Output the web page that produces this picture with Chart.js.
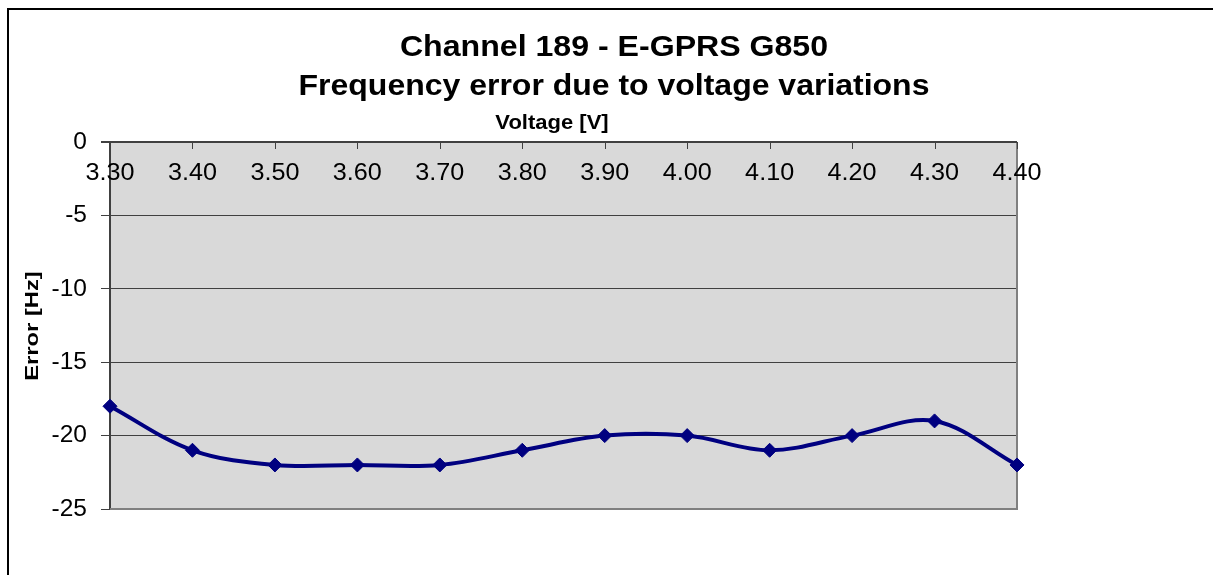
<!DOCTYPE html>
<html><head><meta charset="utf-8">
<script src="https://cdn.jsdelivr.net/npm/chart.js@4/dist/chart.umd.min.js"></script>
<style>html,body{margin:0;padding:0;background:#fff}canvas{display:block}</style>
</head><body>
<div style="width:1213px;height:575px"><canvas id="c" width="1213" height="575"></canvas></div>
<script>
const titleLines = ["Channel 189 - E-GPRS G850", "Frequency error due to voltage variations"];
const xAxisTitle = "Voltage [V]";
const yAxisTitle = "Error [Hz]";
const voltages = ["3.30","3.40","3.50","3.60","3.70","3.80","3.90","4.00","4.10","4.20","4.30","4.40"];
const errors = [-18,-21,-22,-22,-22,-21,-20,-20,-21,-20,-19,-22];
const yMin = -25, yMax = 0, yStep = 5;

const FONT = "'Liberation Sans', Arial, sans-serif";

function drawText(ctx, text, x, y, font, sx, rot) {
  ctx.save();
  ctx.translate(x, y);
  if (rot) ctx.rotate(rot);
  ctx.scale(sx, 1);
  ctx.font = font;
  ctx.fillStyle = '#000';
  ctx.textAlign = 'center';
  ctx.textBaseline = 'middle';
  ctx.fillText(text, 0, 0);
  ctx.restore();
}

const decor = {
  id: 'decor',
  beforeDraw(chart) {
    const {ctx, chartArea: a} = chart;
    ctx.save();
    ctx.fillStyle = '#ffffff';
    ctx.fillRect(0, 0, chart.width, chart.height);
    ctx.fillStyle = '#d9d9d9';
    ctx.fillRect(a.left, a.top, a.right - a.left, a.bottom - a.top);
    ctx.strokeStyle = '#000';
    ctx.lineWidth = 2;
    ctx.strokeRect(8, 9, 1240, 600);
    ctx.restore();
  },
  beforeDatasetsDraw(chart) {
    const {ctx, chartArea: a, scales} = chart;
    const xs = scales.x;
    ctx.save();
    ctx.strokeStyle = '#808080';
    ctx.lineWidth = 2;
    ctx.beginPath();
    ctx.moveTo(a.right, a.top);
    ctx.lineTo(a.right, a.bottom);
    ctx.lineTo(a.left, a.bottom);
    ctx.stroke();
    ctx.strokeStyle = '#404040';
    ctx.lineWidth = 2;
    ctx.beginPath();
    ctx.moveTo(a.left - 9, a.top);
    ctx.lineTo(a.right, a.top);
    ctx.stroke();
    ctx.lineWidth = 1;
    voltages.forEach((v, i) => {
      const px = Math.round(xs.getPixelForValue(i)) + 0.5;
      ctx.beginPath();
      ctx.moveTo(px, a.top);
      ctx.lineTo(px, a.top + 7);
      ctx.stroke();
    });
    ctx.restore();
    voltages.forEach((v, i) => {
      drawText(ctx, v, xs.getPixelForValue(i), a.top + 31, '24px ' + FONT, 1.05, 0);
    });
  },
  afterDraw(chart) {
    const {ctx} = chart;
    drawText(ctx, titleLines[0], 614, 48, 'bold 30px ' + FONT, 1.07, 0);
    drawText(ctx, titleLines[1], 614, 87, 'bold 30px ' + FONT, 1.066, 0);
    drawText(ctx, xAxisTitle, 552, 123, 'bold 20px ' + FONT, 1.1, 0);
    drawText(ctx, yAxisTitle, 33, 326, 'bold 19px ' + FONT, 1.25, -Math.PI / 2);
  }
};

new Chart(document.getElementById('c'), {
  type: 'line',
  data: {
    labels: voltages,
    datasets: [{
      data: errors,
      borderColor: '#000080',
      backgroundColor: '#000080',
      borderWidth: 4,
      tension: 0.35,
      pointStyle: 'rectRot',
      pointRadius: 7,
      pointBorderWidth: 1,
      pointBackgroundColor: '#000080',
      pointBorderColor: '#000080',
      clip: false,
      fill: false
    }]
  },
  options: {
    responsive: false,
    animation: false,
    events: [],
    layout: { padding: { top: 142, right: 196, bottom: 66, left: 0 } },
    plugins: { legend: { display: false }, tooltip: { enabled: false }, title: { display: false } },
    scales: {
      x: { type: 'category', display: false, offset: false },
      y: {
        min: yMin, max: yMax,
        afterFit(s) { s.width = 110; },
        ticks: {
          stepSize: yStep,
          padding: 14,
          color: '#000',
          font: { family: FONT, size: 24.5 },
          callback: v => String(v)
        },
        grid: { color: '#404040', lineWidth: 1, tickLength: 9, drawTicks: true },
        border: { display: true, color: '#404040', width: 2 }
      }
    }
  },
  plugins: [decor]
});
</script>
</body></html>
